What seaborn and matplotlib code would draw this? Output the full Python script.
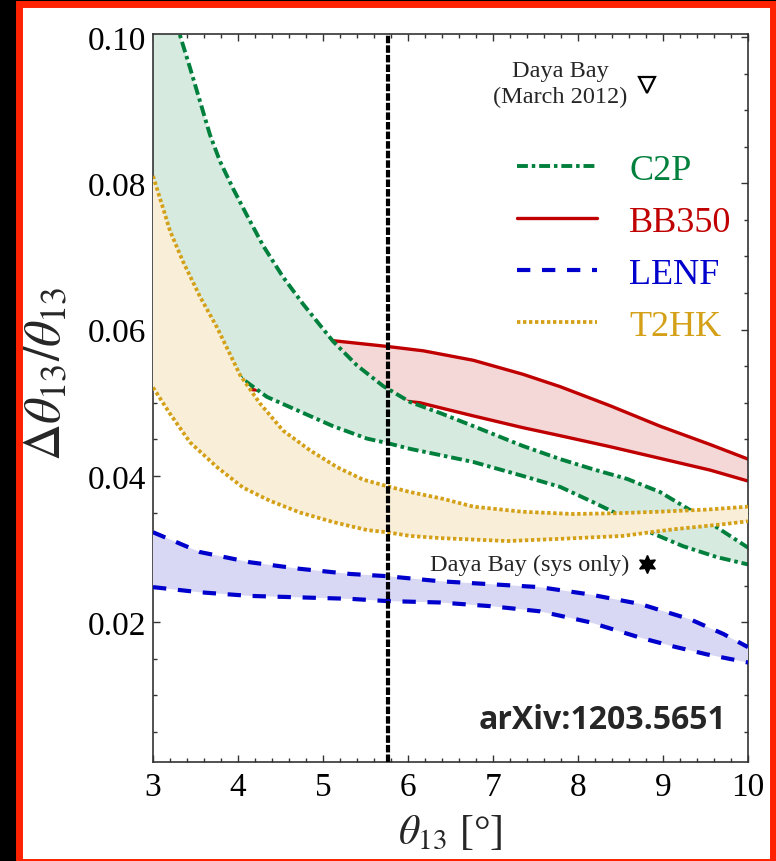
import numpy as np
import seaborn as sns
import matplotlib.pyplot as plt
from matplotlib.lines import Line2D
from matplotlib.patches import Rectangle
from matplotlib.ticker import MultipleLocator, FormatStrFormatter

sns.set_theme(style="ticks")
plt.rcParams['font.family'] = ['Liberation Serif', 'DejaVu Serif']
plt.rcParams['mathtext.fontset'] = 'stix'

# --- curves (theta13 in deg, dtheta/theta) ---
c2p_hi_x = [3.0, 3.31, 3.435, 3.553, 3.671, 3.788, 3.941, 4.106, 4.294, 4.529, 4.765, 4.965, 5.118, 5.40, 5.706,
            6.024, 6.40, 6.77, 7.35, 7.79, 8.18, 8.576, 8.965, 9.353, 9.67, 10.0]
c2p_hi_y = [0.115, 0.1005, 0.0958, 0.0912, 0.0866, 0.0830, 0.0793, 0.0756, 0.0715, 0.0672, 0.0635, 0.0606, 0.0584,
            0.0551, 0.0523, 0.0501, 0.0485, 0.0468, 0.0441, 0.0423, 0.0409, 0.0396, 0.0378, 0.0351, 0.0327, 0.0302]
c2p_lo_x = [3.0, 3.5, 4.024, 4.341, 4.729, 5.118, 5.518, 5.753, 6.024, 6.40, 6.77, 7.35, 7.79, 8.18, 8.41, 8.847,
            9.235, 9.635, 10.0]
c2p_lo_y = [0.066, 0.059, 0.0535, 0.0508, 0.0488, 0.0468, 0.0451, 0.0445, 0.0437, 0.0428, 0.0419, 0.0400, 0.0385,
            0.0364, 0.0351, 0.0323, 0.0304, 0.0289, 0.0279]

bb_hi_x = [4.1, 4.6, 5.106, 5.753, 6.18, 6.77, 7.35, 7.79, 8.376, 8.965, 9.553, 10.0]
bb_hi_y = [0.0595, 0.0590, 0.0585, 0.0577, 0.0571, 0.0558, 0.0539, 0.0522, 0.0496, 0.0468, 0.0443, 0.0423]
bb_lo_x = [4.14, 5.0, 5.75, 6.14, 6.77, 7.35, 7.79, 8.376, 8.965, 9.553, 10.0]
bb_lo_y = [0.0518, 0.0512, 0.0505, 0.0500, 0.0482, 0.0466, 0.0455, 0.0440, 0.0424, 0.0408, 0.0393]

t2hk_hi_x = [3.0, 3.118, 3.2, 3.353, 3.553, 3.753, 4.024, 4.259, 4.53, 4.847, 5.165, 5.47, 5.753, 6.024, 6.40, 6.77,
             7.35, 7.94, 8.46, 8.93, 9.52, 10.0]
t2hk_hi_y = [0.0810, 0.0766, 0.0735, 0.0693, 0.0645, 0.0603, 0.0538, 0.0499, 0.0462, 0.0435, 0.0412, 0.0395, 0.0386,
             0.0378, 0.0369, 0.0358, 0.0351, 0.0348, 0.0349, 0.0351, 0.0354, 0.0358]
t2hk_lo_x = [3.0, 3.2, 3.435, 3.753, 4.06, 4.376, 4.729, 5.118, 5.518, 5.753, 6.024, 6.38, 7.17, 7.79, 8.53, 8.85,
             9.12, 9.71, 10.0]
t2hk_lo_y = [0.0521, 0.0485, 0.0446, 0.0412, 0.0384, 0.0366, 0.0350, 0.0337, 0.0326, 0.0323, 0.0318, 0.0315, 0.0311,
             0.0314, 0.0318, 0.0323, 0.0327, 0.0334, 0.0338]

lenf_hi_x = [3.0, 3.55, 4.14, 4.73, 5.32, 5.75, 6.38, 6.97, 7.55, 8.14, 8.73, 9.32, 9.71, 10.0]
lenf_hi_y = [0.0323, 0.0296, 0.0282, 0.0273, 0.0266, 0.0263, 0.0256, 0.0252, 0.0248, 0.0238, 0.0225, 0.0204, 0.0184, 0.0166]
lenf_lo_x = [3.0, 3.55, 4.14, 4.73, 5.32, 5.75, 6.38, 6.97, 7.55, 8.14, 8.73, 9.12, 9.52, 10.0]
lenf_lo_y = [0.0248, 0.0241, 0.0236, 0.0234, 0.0232, 0.0229, 0.0227, 0.0222, 0.0215, 0.0200, 0.0179, 0.0167, 0.0156, 0.0145]

dc_theta = 5.76
db_march = (8.81, 0.0934)
db_sys = (8.81, 0.0279)

# name, line color, fill color, dashes, line width, layer
bands = [
    ("BB350", "#c00000", "#f4d8d8", None, 2.4, 1, bb_hi_x, bb_hi_y, bb_lo_x, bb_lo_y),
    ("C2P", "#00803c", "#d7eadf", (2.8, 1.0, 0.9, 1.0), 2.8, 2, c2p_hi_x, c2p_hi_y, c2p_lo_x, c2p_lo_y),
    ("T2HK", "#d4a017", "#f9efd9", (0.9, 0.7), 2.7, 3, t2hk_hi_x, t2hk_hi_y, t2hk_lo_x, t2hk_lo_y),
    ("LENF", "#0000cc", "#d8d8f5", (3.2, 2.8), 3.0, 4, lenf_hi_x, lenf_hi_y, lenf_lo_x, lenf_lo_y),
]

fig = plt.figure(figsize=(7.76, 8.62), dpi=100, facecolor="black")
fig.patches.append(Rectangle((18.5 / 776, -0.5 / 862), (773 - 18.5) / 776, (862 - 4) / 862,
                             transform=fig.transFigure, facecolor="white",
                             edgecolor="#ff2200", linewidth=5, zorder=-5))
ax = fig.add_axes([153 / 776, 1 - 763 / 862, 595 / 776, 728 / 862])
ax.set_facecolor("white")

for name, lc, fc, dashes, lw, z, hx, hy, lx, ly in bands:
    ax.fill(np.r_[hx, lx[::-1]], np.r_[hy, ly[::-1]], color=fc, lw=0, zorder=z)
    for xs, ys in [(hx, hy), (lx, ly)]:
        sns.lineplot(x=xs, y=ys, ax=ax, color=lc, lw=lw, zorder=z + 0.5,
                     estimator=None, sort=False)
        line = ax.lines[-1]
        line.set_solid_joinstyle("round")
        if dashes is not None:
            line.set_dashes(dashes)

ax.axvline(dc_theta, color="black", lw=3, dashes=(1.8, 0.5), zorder=6)

ax.plot(*db_march, marker="v", ms=11, mfc="white", mec="black", mew=1.6, ls="none", zorder=7)
ax.plot(*db_sys, marker=(6, 1, 0), ms=13, color="black", ls="none", zorder=7)
ax.text(7.79, 0.0936, "Daya Bay\n(March 2012)", ha="center", va="center",
        fontsize=17.5, linespacing=1.3, zorder=7)
ax.text(8.61, db_sys[1], "Daya Bay (sys only)", ha="right", va="center", fontsize=17.5, zorder=7)
ax.text(9.75, 0.0067, "arXiv:1203.5651", ha="right", va="center", fontsize=23,
        fontweight="bold", family="Open Sans", zorder=7)

handles = []
for name in ["C2P", "BB350", "LENF", "T2HK"]:
    b = [bb for bb in bands if bb[0] == name][0]
    h = Line2D([], [], color=b[1], lw=b[4])
    if b[3] is not None:
        h.set_dashes(b[3])
    handles.append(h)
leg = ax.legend(handles, ["C2P", "BB350", "LENF", "T2HK"], loc="upper left",
                bbox_to_anchor=(0.612, 0.836), frameon=False, fontsize=26,
                handlelength=2.2, handletextpad=0.9, labelspacing=0.52,
                borderpad=0, borderaxespad=0, labelcolor="linecolor")
leg.set_zorder(8)

ax.set_xlim(3, 10)
ax.set_ylim(0.0009, 0.1004)
ax.xaxis.set_major_locator(MultipleLocator(1))
ax.xaxis.set_minor_locator(MultipleLocator(0.2))
ax.yaxis.set_major_locator(MultipleLocator(0.02))
ax.yaxis.set_minor_locator(MultipleLocator(0.005))
ax.yaxis.set_major_formatter(FormatStrFormatter("%.2f"))
ax.tick_params(which="both", direction="in", top=True, right=True, colors="#333333",
               labelcolor="black", width=1)
ax.tick_params(which="major", length=5, labelsize=24)
ax.tick_params(which="minor", length=3)
ax.tick_params(axis="y", pad=5)
ax.tick_params(axis="x", pad=7)
for s in ax.spines.values():
    s.set_color("#333333")
    s.set_linewidth(1.2)

ax.set_xlabel(r"$\theta_{13}$ [°]", fontsize=30, labelpad=8)
ax.set_ylabel(r"$\Delta\theta_{13}/\theta_{13}$", fontsize=37)
ax.yaxis.set_label_coords(-0.137, 0.535)

fig.savefig("out.png", dpi=100, facecolor=fig.get_facecolor())
